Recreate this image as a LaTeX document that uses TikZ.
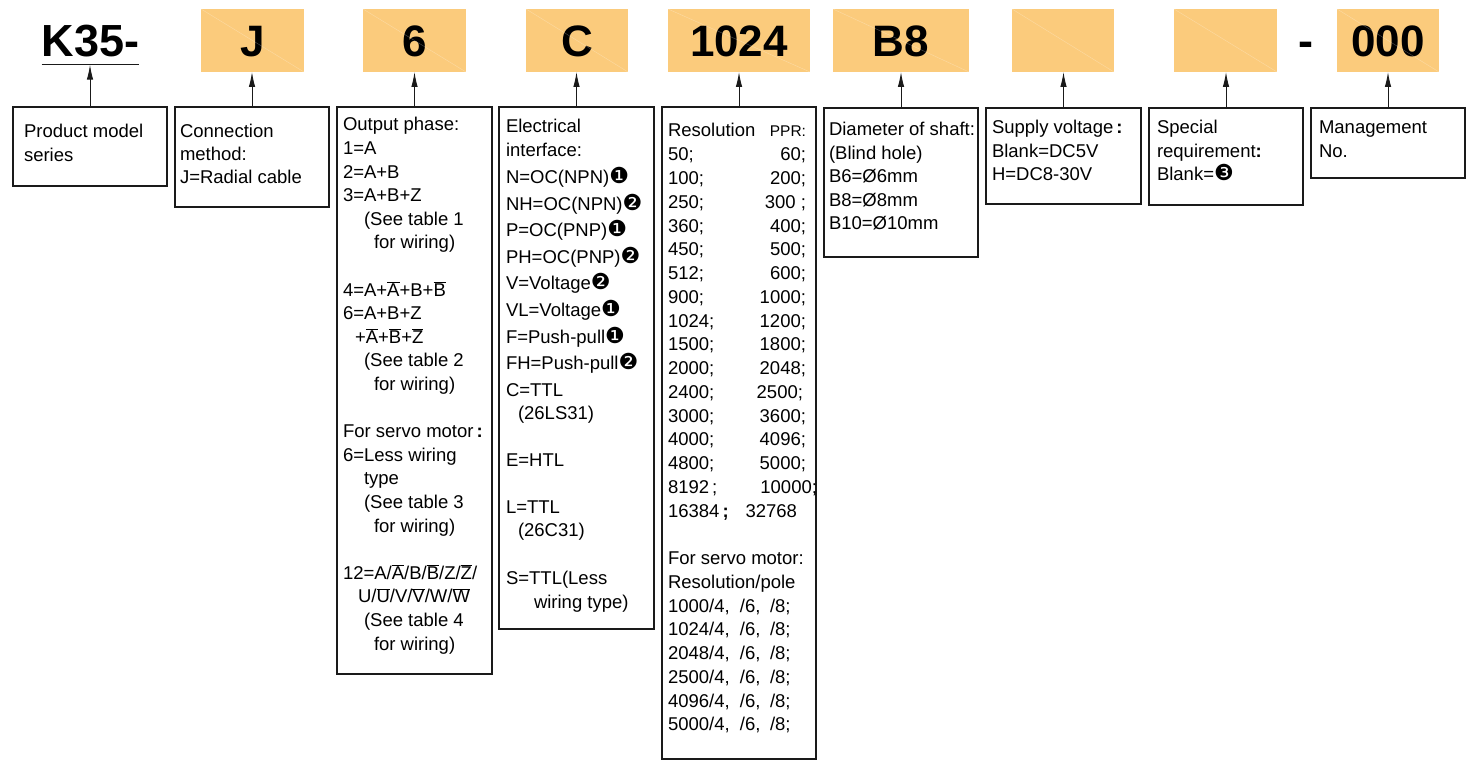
\documentclass[tikz,border=0pt]{standalone}
\usepackage{fontspec}
\setmainfont{Liberation Sans}
\newfontfamily\dvfont{DejaVu Sans}
\usetikzlibrary{arrows.meta,shadows}
\definecolor{codefill}{HTML}{FBCB7C}
\definecolor{lineclr}{HTML}{1A1A1A}
\newcommand\ov[1]{$\overline{\mbox{#1}}$}
\newcommand\cdig[1]{{\fontsize{22}{23.5}\dvfont #1}}
\newcommand\rr[2]{\makebox[138pt][l]{#1\hfill #2}}
\newcommand\sv[1]{\makebox[72pt][l]{#1}\makebox[30pt][l]{/6,}/8;}
\begin{document}
\begin{tikzpicture}[x=1pt,y=-1pt,
  codebox/.style={fill=codefill, minimum height=63pt, inner sep=0pt, outer sep=0pt,
    font=\fontsize{44}{44}\selectfont\bfseries, text height=33pt, text depth=0pt},
  diag/.style={draw=white, opacity=0.3, line width=0.4pt},
  infobox/.style={draw=lineclr, line width=1.1pt, fill=white, inner sep=0pt, outer sep=0pt,
    anchor=north west,
    drop shadow={shadow xshift=1.3pt, shadow yshift=-1.3pt, opacity=0.4, fill=black}},
  txt/.style={anchor=base west, inner sep=0pt, outer sep=0pt, align=left,
    font=\fontsize{18.5}{23.5}\selectfont},
  arr/.style={draw=lineclr, line width=1pt, -{Latex[length=15pt,width=6.5pt]}},
]
\useasboundingbox (0,0) rectangle (1474,775);

% ---------- top row ----------
\node[font=\fontsize{45}{45}\selectfont\bfseries, inner xsep=0pt, inner ysep=7pt,
      anchor=base] (k) at (90.5,57) {K35-};
\draw[lineclr, line width=1pt] (k.south west) -- (k.south east);

\node[codebox, minimum width=103pt] (cJ)  at (252.5,40.5) {J};
\node[codebox, minimum width=103pt] (c6)  at (414.5,40.5) {6};
\node[codebox, minimum width=102pt] (cC)  at (577,40.5)   {C};
\node[codebox, minimum width=142pt] (cR)  at (739,40.5)   {1024};
\node[codebox, minimum width=136pt] (cB)  at (901,40.5)   {B8};
\node[codebox, minimum width=102pt] (cV)  at (1063,40.5)  {};
\node[codebox, minimum width=103pt] (cS)  at (1225.5,40.5){};
\node[font=\fontsize{45}{45}\selectfont\bfseries, inner sep=0pt, anchor=base] (dash) at (1305.5,57) {-};
\node[codebox, minimum width=102pt] (cM)  at (1388,40.5)  {000};

\foreach \n in {cJ,c6,cC,cR,cB,cV,cS,cM}
  \draw[diag] (\n.north west) -- (\n.south east);

% ---------- description boxes ----------
\node[infobox, minimum width=154pt, minimum height=79pt]  (b1) at (13,107)   {};
\node[infobox, minimum width=154pt, minimum height=100pt] (b2) at (175,107)  {};
\node[infobox, minimum width=155pt, minimum height=567pt] (b3) at (337,107)  {};
\node[infobox, minimum width=155pt, minimum height=522pt] (b4) at (499,107)  {};
\node[infobox, minimum width=154pt, minimum height=652pt] (b5) at (662,107)  {};
\node[infobox, minimum width=154pt, minimum height=149pt] (b6) at (824,108)  {};
\node[infobox, minimum width=155pt, minimum height=96pt]  (b7) at (986,108)  {};
\node[infobox, minimum width=154pt, minimum height=97pt]  (b8) at (1149,108) {};
\node[infobox, minimum width=154pt, minimum height=70pt]  (b9) at (1311,108) {};

% ---------- connectors ----------
\draw[arr] (b1.north) -- (b1.north |- k.south);
\draw[arr] (b2.north) -- (b2.north |- cJ.south);
\draw[arr] (b3.north) -- (b3.north |- c6.south);
\draw[arr] (b4.north) -- (b4.north |- cC.south);
\draw[arr] (b5.north) -- (b5.north |- cR.south);
\draw[arr] (b6.north) -- (b6.north |- cB.south);
\draw[arr] (b7.north) -- (b7.north |- cV.south);
\draw[arr] (b8.north) -- (b8.north |- cS.south);
\draw[arr] (b9.north) -- (b9.north |- cM.south);

% ---------- texts ----------
\node[txt] (t1) at (24,138) {\parbox[t]{150pt}{\raggedright\fontsize{18.5}{24}\selectfont
  Product model\\series}};

\node[txt] (t2) at (180,138) {\parbox[t]{150pt}{\raggedright\fontsize{18.5}{22.8}\selectfont
  Connection\\method:\\J=Radial cable}};

\node[txt] (t3) at (343,131) {\parbox[t]{160pt}{\raggedright\fontsize{18.5}{23.6}\selectfont
  Output phase:\\
  1=A\\
  2=A+B\\
  3=A+B+Z\\
  \hspace*{21pt}(See table 1\\
  \hspace*{31pt}for wiring)\\[23.6pt]
  4=A+\ov{A}+B+\ov{B}\\
  6=A+B+Z\\
  \hspace*{12pt}+\ov{A}+\ov{B}+\ov{Z}\\
  \hspace*{21pt}(See table 2\\
  \hspace*{31pt}for wiring)\\[23.6pt]
  For servo motor\,\textbf{:}\\
  6=Less wiring\\
  \hspace*{21pt}type\\
  \hspace*{21pt}(See table 3\\
  \hspace*{31pt}for wiring)\\[23.6pt]
  12=A/\ov{A}/B/\ov{B}/Z/\ov{Z}/\\
  \hspace*{15pt}U/\ov{U}/V/\ov{V}/W/\ov{W}\\
  \hspace*{21pt}(See table 4\\
  \hspace*{31pt}for wiring)}};

\node[txt] (t4) at (506,133) {\parbox[t]{160pt}{\raggedright\fontsize{18.5}{23.5}\selectfont
  Electrical\\
  interface:\\[3.5pt]
  N=OC(NPN)\cdig{❶}\\[3.1pt]
  NH=OC(NPN)\cdig{❷}\\[3.1pt]
  P=OC(PNP)\cdig{❶}\\[3.1pt]
  PH=OC(PNP)\cdig{❷}\\[3.1pt]
  V=Voltage\cdig{❷}\\[3.1pt]
  VL=Voltage\cdig{❶}\\[3.1pt]
  F=Push-pull\cdig{❶}\\[3.1pt]
  FH=Push-pull\cdig{❷}\\[3.1pt]
  C=TTL\\[-0.5pt]
  \hspace*{12pt}(26LS31)\\[23.5pt]
  E=HTL\\[23.5pt]
  L=TTL\\
  \hspace*{12pt}(26C31)\\[24.5pt]
  S=TTL(Less\\
  \hspace*{28pt}wiring type)}};

\node[txt] (t5) at (668,137) {\parbox[t]{160pt}{\raggedright\fontsize{18.5}{23.76}\selectfont
  \rr{Resolution}{{\fontsize{15.5}{15.5}\selectfont PPR:}}\\
  \rr{50;}{60;}\\
  \rr{100;}{200;}\\
  \rr{250;}{300 ;}\\
  \rr{360;}{400;}\\
  \rr{450;}{500;}\\
  \rr{512;}{600;}\\
  \rr{900;}{1000;}\\
  \rr{1024;}{1200;}\\
  \rr{1500;}{1800;}\\
  \rr{2000;}{2048;}\\
  \rr{2400;}{2500;\hspace{3pt}}\\
  \rr{3000;}{3600;}\\
  \rr{4000;}{4096;}\\
  \rr{4800;}{5000;}\\
  \rr{8192\,;}{10000;\hspace{-11pt}}\\
  \rr{16384\,\textbf{;}}{32768\hspace{9pt}}\\[23.76pt]
  For servo motor:\\
  Resolution/pole\\
  \sv{1000/4,}\\
  \sv{1024/4,}\\
  \sv{2048/4,}\\
  \sv{2500/4,}\\
  \sv{4096/4,}\\
  \sv{5000/4,}}};

\node[txt] (t6) at (829,136) {\parbox[t]{160pt}{\raggedright\fontsize{18.5}{23.5}\selectfont
  Diameter of shaft:\\(Blind hole)\\B6=Ø6mm\\B8=Ø8mm\\B10=Ø10mm}};

\node[txt] (t7) at (992,134) {\parbox[t]{160pt}{\raggedright\fontsize{18.5}{23.5}\selectfont
  Supply voltage\,\textbf{:}\\Blank=DC5V\\H=DC8-30V}};

\node[txt] (t8) at (1157,134) {\parbox[t]{160pt}{\raggedright\fontsize{18.5}{23.5}\selectfont
  Special\\requirement\textbf{:}\\Blank=\cdig{❸}}};

\node[txt] (t9) at (1319,134) {\parbox[t]{160pt}{\raggedright\fontsize{18.5}{23.5}\selectfont
  Management\\No.}};
\end{tikzpicture}
\end{document}
